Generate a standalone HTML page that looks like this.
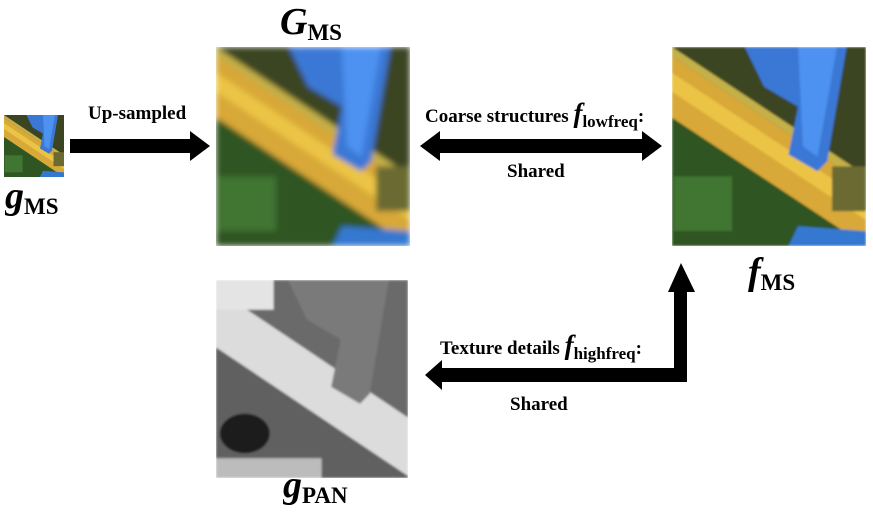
<!DOCTYPE html>
<html><head><meta charset="utf-8"><style>
html,body{margin:0;background:#fff;width:873px;height:513px;overflow:hidden;}
body{position:relative;font-family:"Liberation Serif",serif;}
.t{position:absolute;font-weight:bold;color:#000;white-space:nowrap}
.lab{position:absolute;font-weight:bold;font-style:italic;font-size:38px;line-height:38px;height:42px;overflow:hidden;white-space:nowrap}
.lab sub{font-style:normal;font-size:23px;line-height:23px;vertical-align:-6px}
.f{font-style:italic;font-size:27px}
.f sub{font-style:normal;font-size:17px;vertical-align:-5px}
</style></head><body>
<svg width="873" height="513" style="position:absolute;left:0;top:0">
<defs>
<filter id="bl"><feGaussianBlur stdDeviation="3"/></filter>
<filter id="bl2"><feGaussianBlur stdDeviation="1.2"/></filter>
<g id="ms">
<rect width="200" height="200" fill="#2f5520"/>
<polygon points="0,0 200,0 200,141 0,11" fill="#3a4522"/>
<polygon points="0,0 200,129 200,139 0,9" fill="#c4b048"/>
<polygon points="0,9 200,139 200,200 0,71" fill="#d8a838"/>
<polygon points="0,26 200,155 200,174 0,45" fill="#ecc445"/>
<polygon points="75,0 180,0 160,115 150,125 120,108 130,60 95,40" fill="#3b78d6"/>
<polygon points="130,0 170,0 150,110 135,100" fill="#4d92f0"/>
<rect x="2" y="130" width="60" height="55" fill="#3f7530"/>
<polygon points="130,180 200,185 200,200 120,200" fill="#3478d0"/>
<rect x="165" y="120" width="35" height="45" fill="#6a6a30"/>
</g>
<g id="pan">
<rect width="200" height="200" fill="#606060"/>
<polygon points="0,0 200,0 200,141 0,11" fill="#6a6a6a"/>
<polygon points="0,9 200,139 200,198 0,68" fill="#dcdcdc"/>
<polygon points="75,0 180,0 160,115 150,125 120,108 130,60 95,40" fill="#7a7a7a"/>
<ellipse cx="30" cy="155" rx="26" ry="20" fill="#1a1a1a"/>
<rect x="0" y="180" width="110" height="20" fill="#bcbcbc"/>
<rect x="0" y="0" width="60" height="30" fill="#e4e4e4"/>
</g>
</defs>
<g><svg x="4" y="115" width="60" height="62" viewBox="0 0 200 200" preserveAspectRatio="none"><use href="#ms" filter="url(#bl2)"/></svg></g>
<g><svg x="216" y="47" width="194" height="199" viewBox="0 0 200 200" preserveAspectRatio="none"><use href="#ms" filter="url(#bl)"/></svg></g>
<g><svg x="672" y="47" width="194" height="199" viewBox="0 0 200 200" preserveAspectRatio="none"><use href="#ms" filter="url(#bl2)"/></svg></g>
<g><svg x="216" y="280" width="192" height="198" viewBox="0 0 200 200" preserveAspectRatio="none"><use href="#pan" filter="url(#bl2)"/></svg></g>
<polygon points="70,139 190,139 190,131 210,146 190,161 190,153 70,153" fill="#000"/>
<polygon points="420,146 440,131 440,139 642,139 642,131 662,146 642,161 642,153 440,153 440,161" fill="#000"/>
<polygon points="668,292 681,263 695,292 687,292 687,382 442,382 442,390 425,375 442,360 442,368 674,368 674,292" fill="#000"/>
</svg>
<div class="t" style="left:88px;top:103px;font-size:19px">Up-sampled</div>
<div class="t" style="left:425px;top:98px;font-size:19px">Coarse structures <span class="f">f<sub>lowfreq</sub></span>:</div>
<div class="t" style="left:507px;top:161px;font-size:19px">Shared</div>
<div class="t" style="left:440px;top:330px;font-size:19px">Texture details <span class="f">f<sub>highfreq</sub></span>:</div>
<div class="t" style="left:510px;top:394px;font-size:19px">Shared</div>
<div class="lab" style="left:5px;top:177px">g<sub>MS</sub></div>
<div class="lab" style="left:280px;top:3px">G<sub>MS</sub></div>
<div class="lab" style="left:748px;top:253px">f<sub>MS</sub></div>
<div class="lab" style="left:283px;top:466px">g<sub>PAN</sub></div>
</body></html>
